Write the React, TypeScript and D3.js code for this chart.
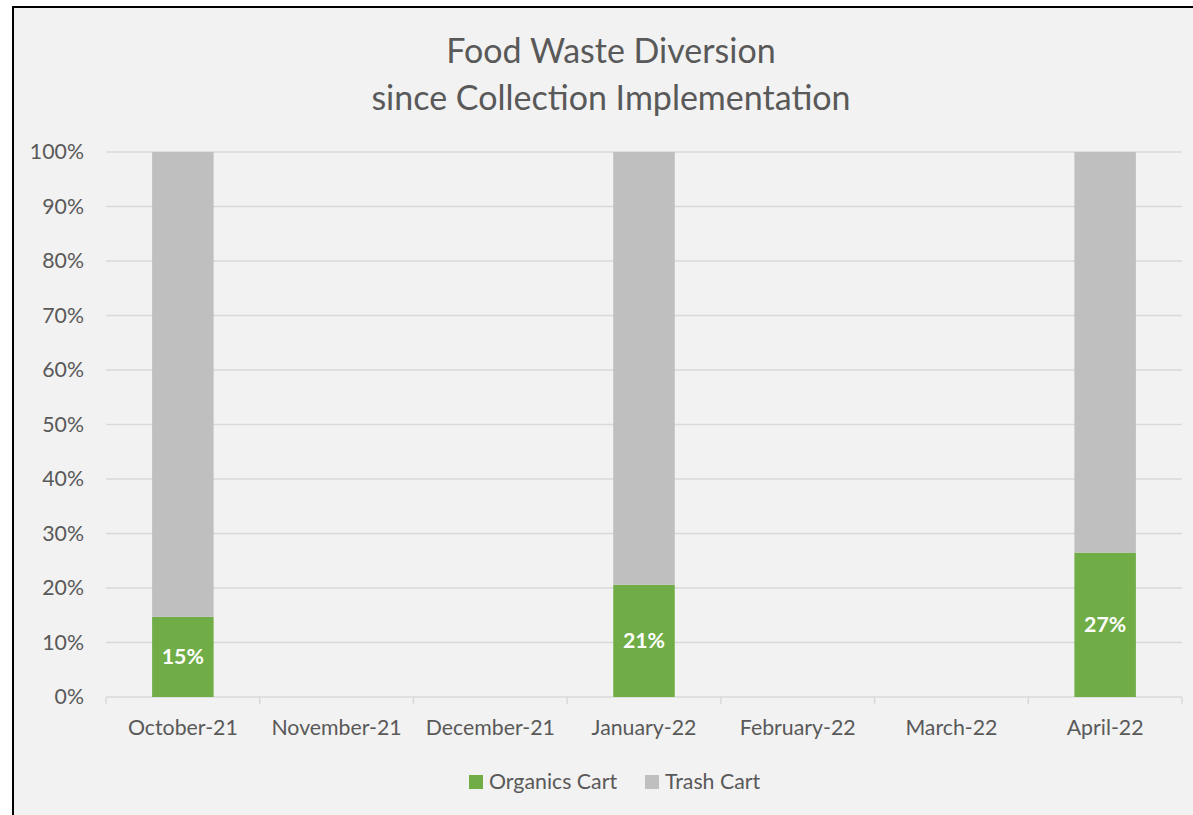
import React from "react";
import * as d3 from "d3";

const categories = ["October-21", "November-21", "December-21", "January-22", "February-22", "March-22", "April-22"];
const organics: (number | null)[] = [0.147, null, null, 0.206, null, null, 0.265];
const trash: (number | null)[] = [0.853, null, null, 0.794, null, null, 0.735];
const yTicks = [0, 0.1, 0.2, 0.3, 0.4, 0.5, 0.6, 0.7, 0.8, 0.9, 1.0];
const seriesNames = ["Organics Cart", "Trash Cart"];
const seriesColors = ["#70ad47", "#bfbfbf"];
const titleLines = ["Food Waste Diversion", "since Collection Implementation"];

const FONT = "Lato, 'Open Sans', sans-serif";

export default function App() {
  const W = 1193, H = 815;
  const left = 106, right = 1182, top = 152, bottom = 697;
  const x = d3.scaleBand<string>().domain(categories).range([left, right]).paddingInner(0.6).paddingOuter(0.3);
  const xTick = d3.scaleBand<string>().domain(categories).range([left, right]);
  const y = d3.scaleLinear().domain([0, 1]).range([bottom, top]);
  const fmt = d3.format(".0%");
  const fs = 21.3;

  const rows = categories.map((c, i) => ({ c, o: organics[i], t: trash[i] }));
  const stack = d3.stack<any>().keys(["o", "t"]).value((d, k) => d[k] ?? 0)(rows);

  return (
    <svg width={W} height={H} style={{ position: "absolute", left: 0, top: 0 }}>
      <rect x={0} y={0} width={W} height={H} fill="#ffffff" />
      <rect x={13} y={7} width={W + 20} height={H + 20} fill="#f2f2f2" stroke="#000" strokeWidth={2} />
      {titleLines.map((t, i) => (
        <text key={i} x={611} y={63 + i * 47} textAnchor="middle" fontFamily={FONT} fontSize={34} fill="#595959">{t}</text>
      ))}
      {yTicks.map((v) => (
        <g key={v}>
          <line x1={left} x2={right} y1={y(v)} y2={y(v)} stroke="#d9d9d9" strokeWidth={1.5} />
          <text x={84} y={y(v)} dy="0.35em" textAnchor="end" fontFamily={FONT} fontSize={fs} fill="#595959">{fmt(v)}</text>
        </g>
      ))}
      {categories.map((c, i) => (
        <line key={"t" + i} x1={xTick(c)!} x2={xTick(c)!} y1={bottom} y2={bottom + 7} stroke="#d9d9d9" strokeWidth={1.5} />
      ))}
      <line x1={right} x2={right} y1={bottom} y2={bottom + 7} stroke="#d9d9d9" strokeWidth={1.5} />
      {stack.map((s, si) =>
        s.map((d, i) =>
          rows[i].o == null ? null : (
            <rect key={si + "-" + i} x={x(categories[i])!} width={x.bandwidth()} y={y(d[1])} height={y(d[0]) - y(d[1])} fill={seriesColors[si]} />
          )
        )
      )}
      {rows.map((r, i) =>
        r.o == null ? null : (
          <text key={"l" + i} x={x(r.c)! + x.bandwidth() / 2} y={(y(0) + y(r.o)) / 2} dy="0.35em" textAnchor="middle" fontFamily={FONT} fontSize={fs} fontWeight="bold" fill="#ffffff">{fmt(r.o)}</text>
        )
      )}
      {categories.map((c) => (
        <text key={"c" + c} x={xTick(c)! + xTick.bandwidth() / 2} y={728} dy="0.35em" textAnchor="middle" fontFamily={FONT} fontSize={fs} fill="#595959">{c}</text>
      ))}
      <g>
        <rect x={469} y={775} width={14} height={14} fill={seriesColors[0]} />
        <text x={489} y={782} dy="0.35em" fontFamily={FONT} fontSize={fs} fill="#595959">{seriesNames[0]}</text>
        <rect x={645} y={775} width={14} height={14} fill={seriesColors[1]} />
        <text x={665} y={782} dy="0.35em" fontFamily={FONT} fontSize={fs} fill="#595959">{seriesNames[1]}</text>
      </g>
    </svg>
  );
}
